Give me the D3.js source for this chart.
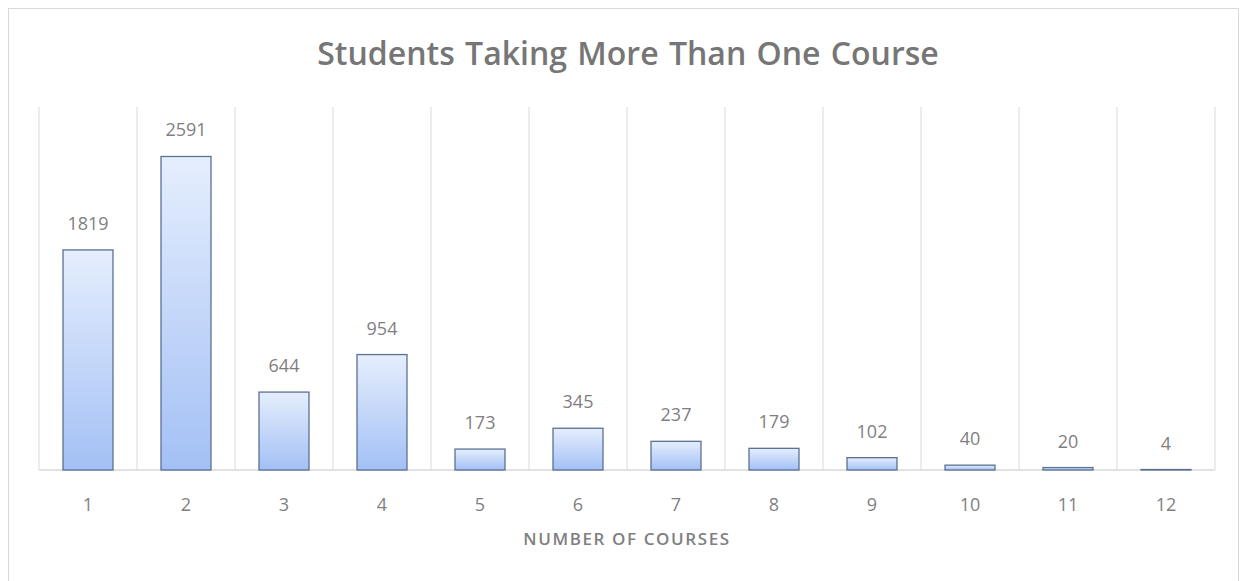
<!DOCTYPE html>
<html>

<head>
	<title>Students Taking More Than One Course</title>
	<script src="https://cdn.jsdelivr.net/npm/d3@7"></script>
	<style>
		body { margin: 0; background: #fff; }
		text { font-family: "Open Sans", "Noto Sans", sans-serif; fill: #7f7f7f; }
	</style>
</head>

<body>
	<svg id="chart" width="1241" height="581"></svg>
	<script>
		var courses = ['1', '2', '3', '4', '5', '6', '7', '8', '9', '10', '11', '12'];
		var students = [1819, 2591, 644, 954, 173, 345, 237, 179, 102, 40, 20, 4];
		var yMax = 3000;

		var svg = d3.select('#chart'),
			margin = { left: 39, right: 26, top: 107, bottom: 111 },
			width = +svg.attr('width'),
			height = +svg.attr('height');

		// chart frame
		svg.append('rect')
			.attr('x', 8.5).attr('y', 8.5)
			.attr('width', 1230).attr('height', 580)
			.attr('fill', 'white')
			.attr('stroke', '#d9d9d9');

		var defs = svg.append('defs');
		var grad = defs.append('linearGradient')
			.attr('id', 'barGrad')
			.attr('x1', 0).attr('y1', 0).attr('x2', 0).attr('y2', 1);
		grad.append('stop').attr('offset', '0%').attr('stop-color', '#e5eefd');
		grad.append('stop').attr('offset', '100%').attr('stop-color', '#a3c0f5');

		var x = d3.scaleBand()
			.domain(courses)
			.range([margin.left, width - margin.right])
			.paddingInner(0.49)
			.paddingOuter(0.245);

		var y = d3.scaleLinear()
			.domain([0, yMax])
			.range([height - margin.bottom, margin.top]);

		// vertical gridlines between categories
		var step = x.step();
		var gridX = courses.map(c => x(c) - x.paddingOuter() * step).concat([width - margin.right]);
		svg.append('g')
			.selectAll('line')
			.data(gridX)
			.enter()
			.append('line')
			.attr('x1', d => d).attr('x2', d => d)
			.attr('y1', y(yMax)).attr('y2', y(0))
			.attr('stroke', '#d9d9d9')
			.attr('stroke-width', 1);

		// baseline
		svg.append('line')
			.attr('x1', margin.left).attr('x2', width - margin.right)
			.attr('y1', y(0)).attr('y2', y(0))
			.attr('stroke', '#d9d9d9')
			.attr('stroke-width', 1.5);

		svg.append('g')
			.selectAll('rect')
			.data(students)
			.enter()
			.append('rect')
			.attr('x', (d, i) => x(courses[i]))
			.attr('y', d => y(d))
			.attr('width', x.bandwidth())
			.attr('height', d => y(0) - y(d))
			.attr('fill', 'url(#barGrad)')
			.attr('stroke', '#5a7194')
			.attr('stroke-width', 1.3);

		// data labels
		svg.append('g')
			.selectAll('text')
			.data(students)
			.enter()
			.append('text')
			.attr('x', (d, i) => x(courses[i]) + x.bandwidth() / 2)
			.attr('y', d => y(d) - 20)
			.attr('text-anchor', 'middle')
			.style('font-size', '18px')
			.text(d => d);

		// x axis labels
		var xAxis = svg.append('g')
			.attr('transform', 'translate(0,' + y(0) + ')')
			.call(d3.axisBottom(x).tickSize(0).tickPadding(28));
		xAxis.select('.domain').remove();
		xAxis.selectAll('text')
			.style('font-size', '18px')
			.style('font-family', '"Open Sans", "Noto Sans", sans-serif')
			.attr('fill', '#7f7f7f');

		svg.append('text')
			.attr('x', (margin.left + width - margin.right) / 2)
			.attr('y', 545)
			.attr('text-anchor', 'middle')
			.style('font-size', '17px')
			.style('font-weight', 600)
			.style('letter-spacing', '1.6px')
			.text('NUMBER OF COURSES');

		svg.append('text')
			.attr('x', 628)
			.attr('y', 65)
			.attr('text-anchor', 'middle')
			.style('font-size', '32px')
			.style('font-weight', 600)
			.style('word-spacing', '2px')
			.style('fill', '#767676')
			.text('Students Taking More Than One Course');
	</script>
</body>

</html>
